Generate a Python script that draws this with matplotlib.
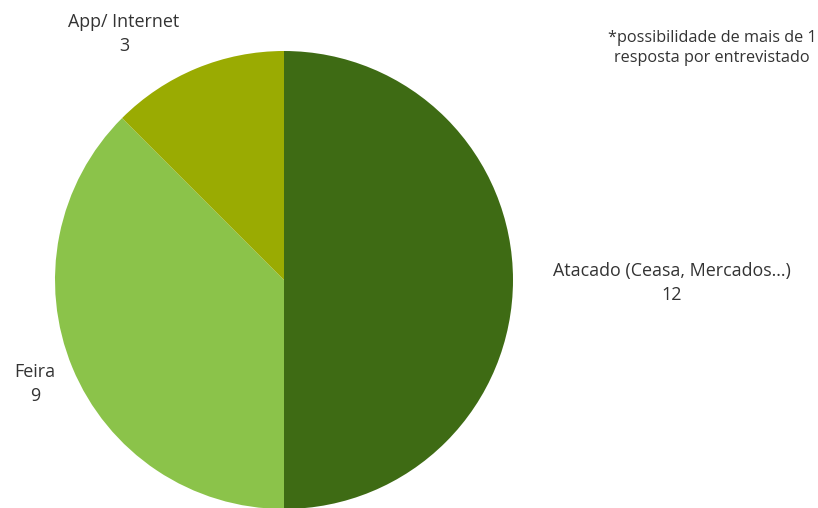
import matplotlib.pyplot as plt

labels = ["Atacado (Ceasa, Mercados...)", "Feira", "App/ Internet"]
values = [12, 9, 3]
colors = ["#3e6b14", "#8bc34a", "#9aab02"]

plt.rcParams["font.family"] = ["Open Sans", "DejaVu Sans"]

fig = plt.figure(figsize=(8.18, 5.08), dpi=100)
ax = fig.add_axes([0, 0, 1, 1])

ax.pie(values, colors=colors, startangle=90, counterclock=False,
       center=(284, 228), radius=229, frame=True,
       wedgeprops=dict(linewidth=0))
ax.set_xlim(0, 818)
ax.set_ylim(0, 508)
ax.set_aspect("equal")
ax.axis("off")

txt = dict(ha="center", va="center", color="#333333", fontsize=12.9,
           linespacing=1.45, fontweight="medium")
ax.text(672, 225, f"{labels[0]}\n{values[0]}", **txt)
ax.text(35, 124, f"{labels[1]}\n{values[1]}", **txt)
ax.text(124, 474, f"{labels[2]}\n{values[2]}", **txt)

ax.text(712, 460, "*possibilidade de mais de 1\nresposta por entrevistado",
        ha="center", va="center", color="#333333", fontsize=11.7,
        linespacing=1.35, fontweight="medium")

fig.savefig("out.png", dpi=100, facecolor="white")
